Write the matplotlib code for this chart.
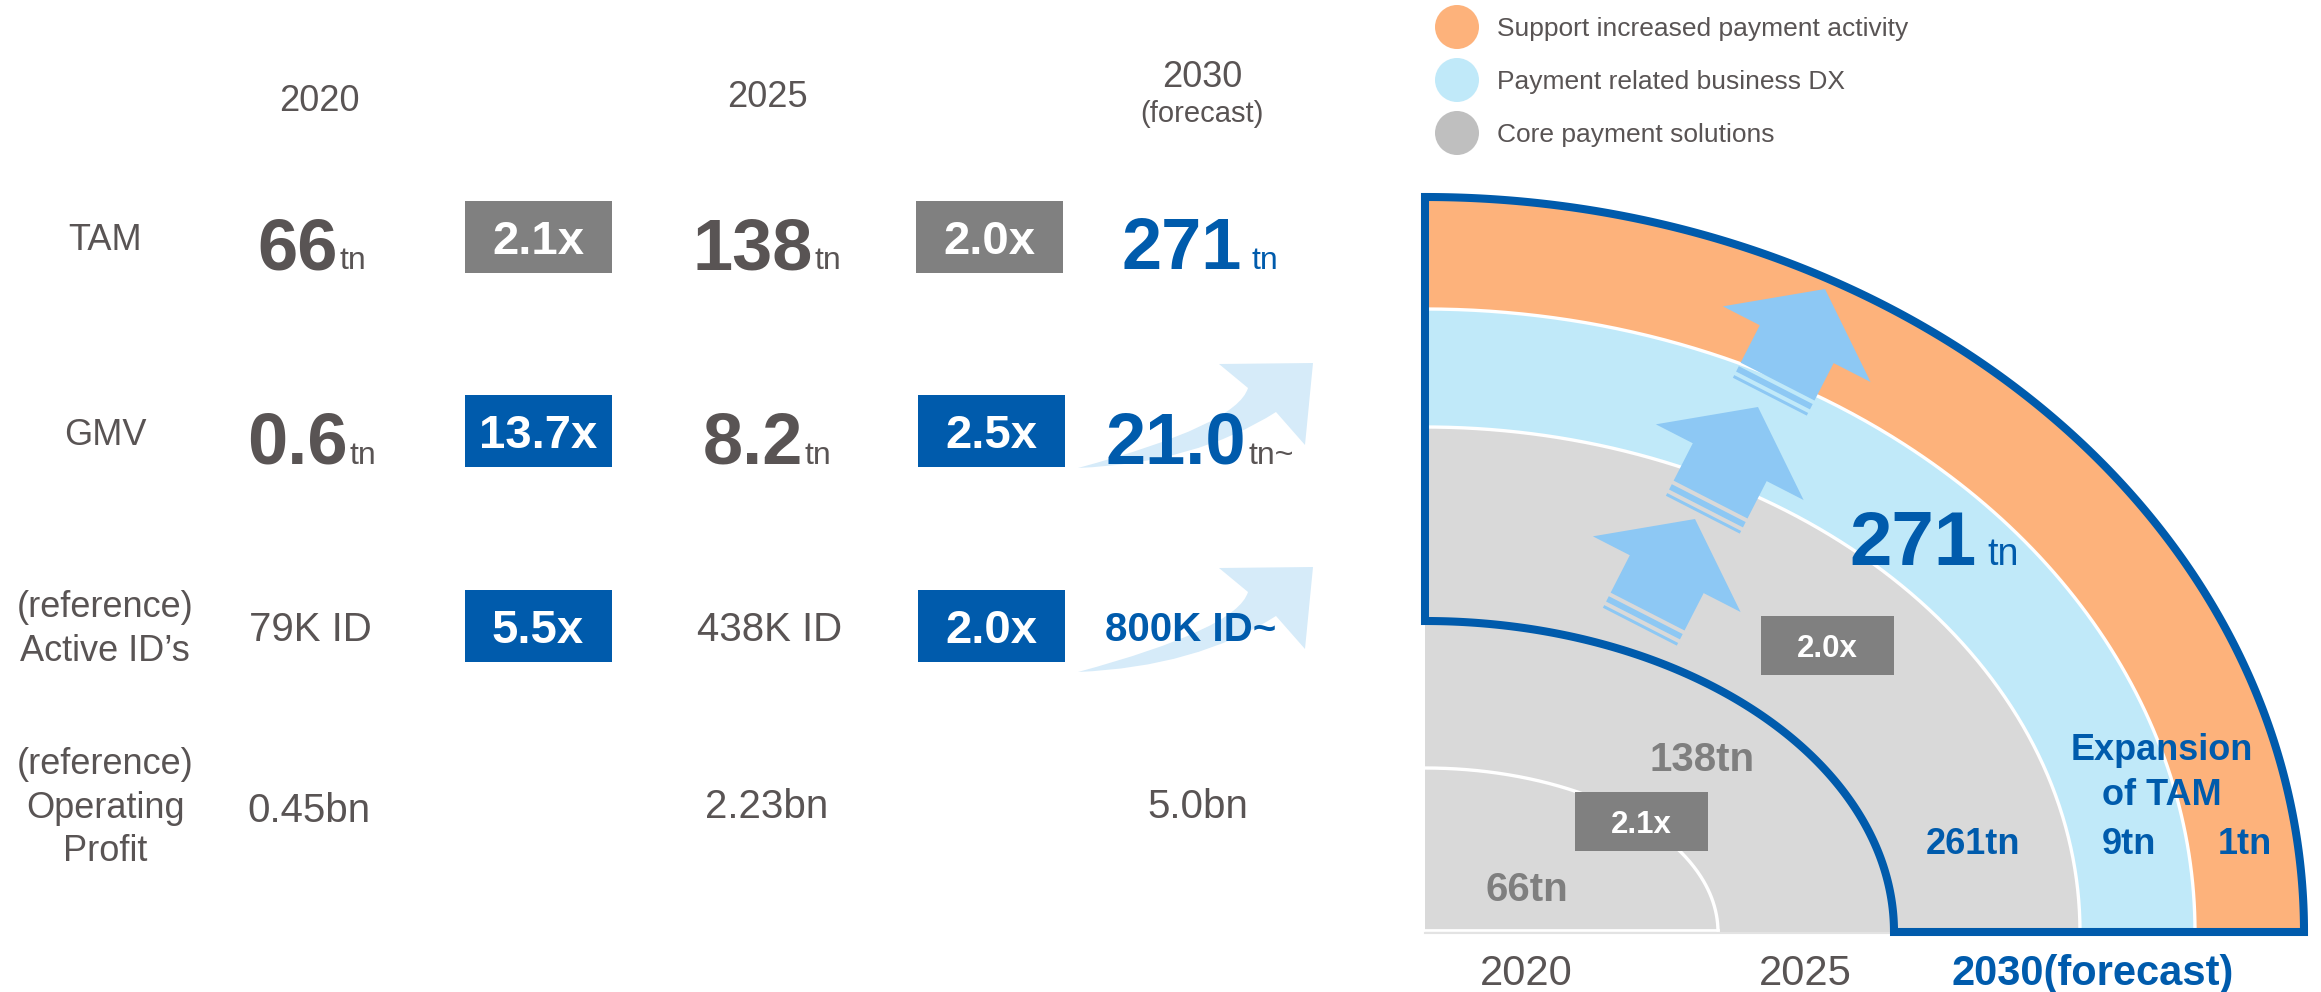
import numpy as np
import matplotlib
matplotlib.use("Agg")
import matplotlib.pyplot as plt
from matplotlib.patches import Polygon, Rectangle, Circle, PathPatch
from matplotlib.path import Path

plt.rcParams['font.family'] = ['Liberation Sans', 'DejaVu Sans']

# ---- data ----
years = ['2020', '2025', '2030']
tam = ['66', '138', '271']
gmv = ['0.6', '8.2', '21.0']
active_ids = ['79K ID', '438K ID', '800K ID~']
op_profit = ['0.45bn', '2.23bn', '5.0bn']
tam_growth = ['2.1x', '2.0x']
gmv_growth = ['13.7x', '2.5x']
id_growth = ['5.5x', '2.0x']
row_labels = [['TAM'], ['GMV'], ['(reference)', 'Active ID\u2019s'],
              ['(reference)', 'Operating', 'Profit']]
legend_labels = ['Support increased payment activity',
                 'Payment related business DX',
                 'Core payment solutions']
tam_2030_parts = [261, 9, 1]

# ---- style ----
TXT = '#595454'
BLUE = '#005BAC'
GREY_BOX = '#808080'
GREY_TXT = '#7F7F7F'
ORANGE = '#FDB27B'
LBLUE = '#C0E9F9'
GREY_FILL = '#D9D9D9'
ARROW = '#8DC8F4'
SWOOSH = '#D6EBF9'

W, H = 2321, 992
fig = plt.figure(figsize=(W / 100, H / 100), dpi=100)
ax = fig.add_axes([0, 0, 1, 1])
ax.set_xlim(0, W)
ax.set_ylim(H, 0)
ax.axis('off')
r = fig.canvas.get_renderer()


def put(x, yc, s, size, weight='normal', color=TXT, ha='center', z=6):
    # yc is the centre of the capital letters
    cap = 0.716 * size * 100 / 72
    return ax.text(x, yc + cap / 2, s, fontsize=size, fontweight=weight,
                   color=color, ha=ha, va='baseline', zorder=z)


def put_pair(xc, base, main, suffix, size1, size2, c1, c2, gap=1,
             w1='bold', w2='normal', z=6):
    t1 = ax.text(0, base, main, fontsize=size1, fontweight=w1, color=c1,
                 ha='left', va='baseline', zorder=z)
    t2 = ax.text(0, base, suffix, fontsize=size2, fontweight=w2, color=c2,
                 ha='left', va='baseline', zorder=z)
    a = t1.get_window_extent(r).width
    b = t2.get_window_extent(r).width
    x0 = xc - (a + gap + b) / 2
    t1.set_x(x0)
    t2.set_x(x0 + a + gap)


def box(xc, yc, w, h, s, fc, size):
    ax.add_patch(Rectangle((xc - w / 2, yc - h / 2), w, h, fc=fc, ec='none', zorder=4))
    put(xc, yc, s, size, weight='bold', color='white', z=5)


# ---- left table ----
col_x = [312, 767, 1200]
head_x = [319, 767, 1202]
box_x = [538, 989]
label_x = 105

put(head_x[0], 98, years[0], 26)
put(head_x[1], 94, years[1], 26)
put(head_x[2], 74, years[2], 26)
put(head_x[2], 112, '(forecast)', 21)

label_y = [[237], [432], [604, 648], [761, 805, 848]]
for lines, ys in zip(row_labels, label_y):
    for s, y in zip(lines, ys):
        put(label_x, y, s, 26)

# swoosh arrows behind the 2030 values
for dy in [0, 204]:
    pts = [(1078, 468), (1237, 425), (1248, 388), (1219, 364), (1313, 363),
           (1305, 445), (1276, 412), (1196, 463), (1078, 468), (1078, 468)]
    pts = [(x, y + dy) for x, y in pts]
    codes = [Path.MOVETO, Path.CURVE3, Path.CURVE3, Path.LINETO, Path.LINETO,
             Path.LINETO, Path.LINETO, Path.CURVE3, Path.CURVE3, Path.CLOSEPOLY]
    ax.add_patch(PathPatch(Path(pts, codes), fc=SWOOSH, ec='none', zorder=2))

# TAM row
tam_gap = [1, 1, 10]
for i, v in enumerate(tam):
    c = BLUE if i == 2 else TXT
    put_pair(col_x[i], 269, v, 'tn', 52, 23, c, c, gap=tam_gap[i])
for i, g in enumerate(tam_growth):
    box(box_x[i], 237, 147, 72, g, GREY_BOX, 34)

# GMV row
for i, v in enumerate(gmv):
    c = BLUE if i == 2 else TXT
    suf = 'tn~' if i == 2 else 'tn'
    put_pair(col_x[i], 464, v, suf, 52, 23, c, TXT, gap=2)
for i, g in enumerate(gmv_growth):
    box(box_x[i] + (2 if i else 0), 431, 147, 72, g, BLUE, 34)

# Active IDs row
for i, v in enumerate(active_ids):
    if i == 2:
        put(1191, 627, v, 29, weight='bold', color=BLUE)
    else:
        put(col_x[i] - 2 if i == 0 else col_x[i] + 3, 627, v, 29)
for i, g in enumerate(id_growth):
    box(box_x[i] + (2 if i else 0), 626, 147, 72, g, BLUE, 34)

# Operating profit row
op_y = [808, 804, 804]
op_x = [309, 767, 1198]
for i, v in enumerate(op_profit):
    put(op_x[i], op_y[i], v, 29)

# ---- legend ----
leg_colors = [ORANGE, LBLUE, '#BFBFBF']
leg_y = [27, 80, 133]
for c, y, s in zip(leg_colors, leg_y, legend_labels):
    ax.add_patch(Circle((1457, y), 22, fc=c, ec='none', zorder=3))
    put(1497, y, s, 19, ha='left')

# ---- quarter-ellipse TAM chart ----
cx, cy = 1425, 932
theta = np.linspace(0, np.pi / 2, 300)


def arc(rx, ry, t=theta):
    return cx + rx * np.cos(t), cy - ry * np.sin(t)


rings = [(879, 735, ORANGE), (770, 623, LBLUE), (655, 505, GREY_FILL)]
for rx, ry, c in rings:
    x, y = arc(rx, ry)
    verts = [(cx, cy)] + list(zip(x, y))
    ax.add_patch(Polygon(verts, closed=True, fc=c, ec='none', zorder=1))

for rx, ry in [(770, 623), (655, 505), (293, 164)]:
    x, y = arc(rx, ry)
    ax.plot(x, y, color='white', lw=2.4, zorder=2, solid_capstyle='butt')
ax.plot([cx, cx + 293], [cy - 2, cy - 2], color='white', lw=2.0, zorder=2)
ax.plot([cx, cx + 469], [cy + 1, cy + 1], color='#E3E3E3', lw=1.5, zorder=2)

# growth arrows
d = np.array([0.456, -0.890])
p = np.array([0.890, 0.456])
for tip in [(1825, 289), (1758, 407), (1695, 519)]:
    T = np.array(tip, dtype=float)
    head = [T, T - 62 * d + 83 * p, T - 62 * d + 41.5 * p,
            T - 104 * d + 41.5 * p, T - 104 * d - 41.5 * p,
            T - 62 * d - 41.5 * p, T - 62 * d - 83 * p]
    ax.add_patch(Polygon(head, closed=True, fc=ARROW, ec='none', zorder=3))
    for a0, a1 in [(108, 114), (118, 121)]:
        st = [T - a0 * d + 41.5 * p, T - a1 * d + 41.5 * p,
              T - a1 * d - 41.5 * p, T - a0 * d - 41.5 * p]
        ax.add_patch(Polygon(st, closed=True, fc=ARROW, ec='none', zorder=3))

# 2030 outline
x_in, y_in = arc(469, 311, theta[::-1])
x_out, y_out = arc(879, 735)
outline = [(cx, cy - 735)] + list(zip(x_in, y_in)) + list(zip(x_out, y_out))
ax.add_patch(Polygon(outline, closed=True, fill=False, ec=BLUE, lw=5.8,
                     joinstyle='miter', zorder=5))

# labels inside the chart
put_pair(1934, 565, tam[2], 'tn', 55, 27, BLUE, BLUE, gap=10)
put(2162, 747, 'Expansion', 26, weight='bold', color=BLUE)
put(2162, 792, 'of TAM', 26, weight='bold', color=BLUE)
for xc, v in zip([1973, 2129, 2245], tam_2030_parts):
    put(xc, 841, f'{v}tn', 26, weight='bold', color=BLUE)
put(1527, 887, f'{tam[0]}tn', 29, weight='bold', color=GREY_TXT)
put(1702, 757, f'{tam[1]}tn', 29, weight='bold', color=GREY_TXT)
box(1641.5, 821.5, 133, 59, tam_growth[0], GREY_BOX, 22.5)
box(1827.5, 645.5, 133, 59, tam_growth[1], GREY_BOX, 22.5)

put(1526, 970, years[0], 30, color=TXT)
put(1805, 970, years[1], 30, color=TXT)
put(2093, 970, years[2] + '(forecast)', 30, weight='bold', color=BLUE)

fig.savefig('out.png', dpi=100)
